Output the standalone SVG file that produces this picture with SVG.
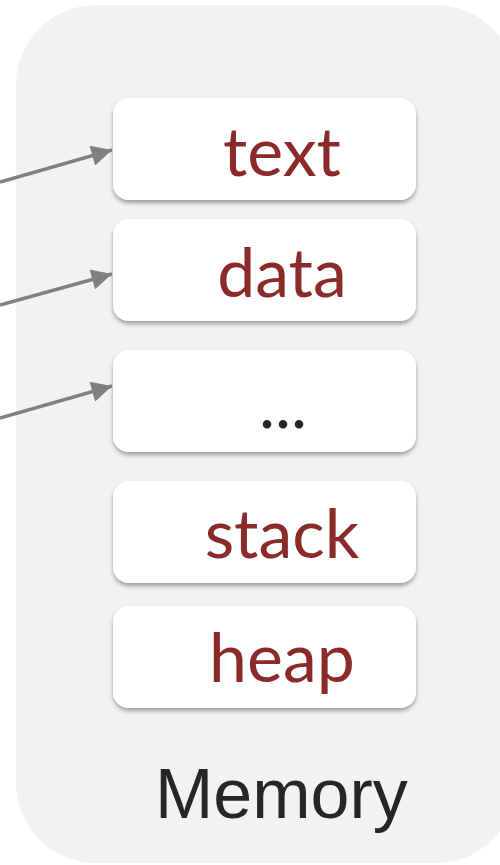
<svg xmlns="http://www.w3.org/2000/svg" width="500" height="865" viewBox="0 0 500 865">
  <defs>
    <filter id="shadow" x="-10%" y="-10%" width="120%" height="130%">
      <feDropShadow dx="0" dy="3" stdDeviation="2" flood-color="#000" flood-opacity="0.35"/>
    </filter>
    <marker id="arrow" viewBox="0 0 10 10" refX="10" refY="5" markerWidth="8" markerHeight="6" markerUnits="strokeWidth" orient="auto">
      <path d="M0,0 L10,5 L0,10 Z" fill="#808080"/>
    </marker>
  </defs>
  <style>
    .segment { fill: #ffffff; filter: url(#shadow); }
    .label { font-family: Lato, "Open Sans", sans-serif; font-size: 68px; fill: #8b2a2a; text-anchor: middle; }
    .edge { stroke: #808080; stroke-width: 3.4; fill: none; marker-end: url(#arrow); }
  </style>

  <!-- memory container -->
  <g id="memory">
    <rect x="16" y="5" width="500" height="858" rx="80" ry="80" fill="#f2f2f2"/>
    <text x="155" y="818" font-family="'Liberation Sans', Arial, sans-serif" font-size="70" fill="#262626">Memory</text>
  </g>

  <g id="seg-text">
    <rect class="segment" x="113" y="98" width="303" height="102" rx="16"/>
    <text class="label" x="282" y="176">text</text>
  </g>
  <g id="seg-data">
    <rect class="segment" x="113" y="219" width="303" height="102" rx="16"/>
    <text class="label" x="282" y="297">data</text>
  </g>
  <g id="seg-more">
    <rect class="segment" x="113" y="350" width="303" height="102" rx="16"/>
    <text class="label" x="283" y="428" fill="#262626" style="fill:#262626">...</text>
  </g>
  <g id="seg-stack">
    <rect class="segment" x="113" y="481" width="303" height="102" rx="16"/>
    <text class="label" x="282" y="558">stack</text>
  </g>
  <g id="seg-heap">
    <rect class="segment" x="113" y="606" width="303" height="102" rx="16"/>
    <text class="label" x="282" y="682">heap</text>
  </g>

  <!-- pointers into the segments -->
  <g id="connectors">
    <line class="edge" x1="0" y1="182" x2="112" y2="150"/>
    <line class="edge" x1="0" y1="305" x2="112" y2="274"/>
    <line class="edge" x1="0" y1="418" x2="112" y2="386"/>
  </g>
</svg>
